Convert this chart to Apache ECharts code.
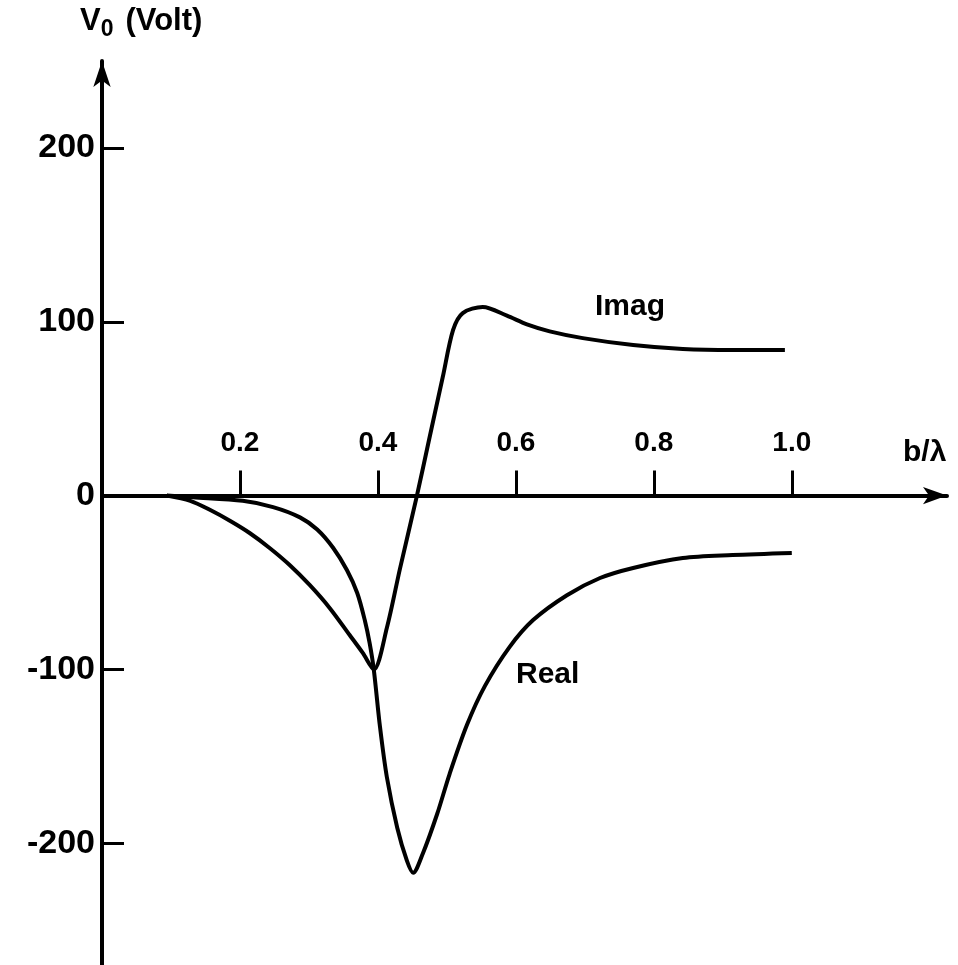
<!DOCTYPE html>
<html>
<head>
<meta charset="utf-8">
<script src="https://cdn.jsdelivr.net/npm/echarts@6/dist/echarts.min.js"></script>
<style>
  html, body { margin: 0; background: #fff; }
  #main { width: 958px; height: 965px; }
</style>
</head>
<body>
<div id="main"></div>
<script>
// tick values
const xTicks = [0.2, 0.4, 0.6, 0.8, 1.0]
const yTicks = [-200, -100, 0, 100, 200]

// Real part of V0 vs b/lambda
const realX = [0.094, 0.132, 0.204, 0.248, 0.287, 0.312, 0.335, 0.355, 0.37, 0.381, 0.388, 0.394, 0.403, 0.413, 0.428, 0.442, 0.451, 0.465, 0.486, 0.504, 0.529, 0.555, 0.591, 0.625, 0.674, 0.722, 0.77, 0.842, 0.914, 1.0]
const realY = [0, -1, -3, -6.6, -12.5, -19.5, -30, -42.8, -56, -71.7, -84.9, -100, -133, -162, -191, -210, -217, -206, -183, -160, -132, -109.6, -87, -71.6, -57.3, -47.4, -41.6, -35.9, -34.2, -33]

// Imaginary part of V0 vs b/lambda
const imagX = [0.094, 0.128, 0.157, 0.186, 0.214, 0.243, 0.272, 0.301, 0.33, 0.359, 0.378, 0.394, 0.413, 0.432, 0.456, 0.475, 0.494, 0.509, 0.523, 0.552, 0.587, 0.616, 0.649, 0.697, 0.77, 0.842, 0.914, 0.99]
const imagY = [0, -3, -8.3, -14.6, -21.5, -30.1, -39.9, -51.4, -64.6, -80.2, -90.5, -100, -76, -42, -1, 33.7, 68.2, 95.3, 105, 108.5, 103.5, 98.5, 94.5, 90.6, 86.6, 84.3, 83.7, 83.7]

const zip = (xs, ys) => xs.map((x, i) => [x, ys[i]])
const font = 'Liberation Sans'

const chart = echarts.init(document.getElementById('main'))
chart.setOption({
  animation: false,
  grid: { left: 102, right: 11, top: 61, bottom: 0 },
  xAxis: {
    type: 'value',
    min: 0,
    max: 1.225,
    position: 'bottom',
    // lift the axis up to the V0 = 0 line
    offset: -469.4,
    axisLine: {
      onZero: false,
      symbol: ['none', 'arrow'],
      symbolSize: [13, 24],
      lineStyle: { color: '#000', width: 4 },
    },
    axisTick: {
      inside: true,
      length: 25,
      customValues: xTicks,
      lineStyle: { color: '#000', width: 3 },
    },
    axisLabel: {
      inside: true,
      margin: 38,
      customValues: xTicks,
      formatter: v => v.toFixed(1),
      color: '#000',
      fontFamily: font,
      fontWeight: 'bold',
      fontSize: 28,
    },
    splitLine: { show: false },
  },
  yAxis: {
    type: 'value',
    min: -270,
    max: 250,
    axisLine: {
      show: true,
      onZero: false,
      symbol: ['none', 'arrow'],
      symbolSize: [13, 26],
      lineStyle: { color: '#000', width: 4 },
    },
    axisTick: {
      show: true,
      inside: true,
      length: 22,
      customValues: yTicks,
      lineStyle: { color: '#000', width: 3 },
    },
    axisLabel: {
      margin: 7,
      customValues: yTicks,
      color: '#000',
      fontFamily: font,
      fontWeight: 'bold',
      fontSize: 34,
    },
    splitLine: { show: false },
  },
  graphic: [
    {
      type: 'text', left: 80, top: 6,
      style: {
        text: '{v|V}{s|0}{v|(Volt)}',
        rich: {
          v: { fontFamily: font, fontWeight: 'bold', fontSize: 31, fill: '#000' },
          s: { fontFamily: font, fontWeight: 'bold', fontSize: 23, fill: '#000', padding: [16, 12, 0, 0] },
        },
      },
    },
    {
      type: 'text', left: 903, top: 438,
      style: { text: 'b/λ', fontFamily: font, fontWeight: 'bold', fontSize: 30, fill: '#000' },
    },
    {
      type: 'text', left: 595, top: 292,
      style: { text: 'Imag', fontFamily: font, fontWeight: 'bold', fontSize: 30, fill: '#000' },
    },
    {
      type: 'text', left: 516, top: 660,
      style: { text: 'Real', fontFamily: font, fontWeight: 'bold', fontSize: 30, fill: '#000' },
    },
  ],
  series: [
    {
      name: 'Real',
      type: 'line',
      data: zip(realX, realY),
      smooth: 0.3,
      showSymbol: false,
      lineStyle: { color: '#000', width: 4 },
    },
    {
      name: 'Imag',
      type: 'line',
      data: zip(imagX, imagY),
      smooth: 0.3,
      showSymbol: false,
      lineStyle: { color: '#000', width: 4 },
    },
  ],
})
</script>
</body>
</html>
